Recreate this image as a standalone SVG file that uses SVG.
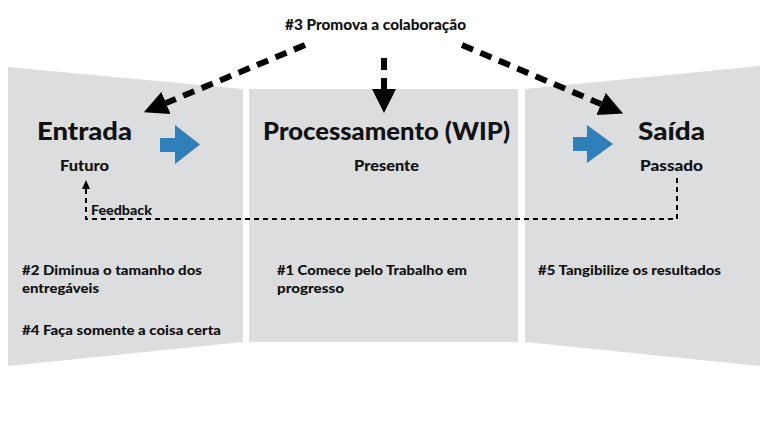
<svg xmlns="http://www.w3.org/2000/svg" width="768" height="432" viewBox="0 0 768 432">
<defs>
<style>
.panel{fill:#dcdddf}
text{font-family:Lato,"Liberation Sans",sans-serif;font-weight:900;fill:#111}
.title{font-size:25px}
.sub{font-size:15px}
.note{font-size:13.5px}
.small{font-size:12.5px}
.thick{fill:none;stroke:#000;stroke-width:6;stroke-dasharray:12 8}
.thin{fill:none;stroke:#000;stroke-width:2;stroke-dasharray:5 4}
.blue{fill:#2f80b9}
</style>
<marker id="bigHead" markerUnits="userSpaceOnUse" markerWidth="24" markerHeight="24" refX="0" refY="12" orient="auto" viewBox="0 0 24 24">
<path d="M0,0 L24,12 L0,24 z" fill="#000"/>
</marker>
<marker id="smallHead" markerUnits="userSpaceOnUse" markerWidth="9" markerHeight="8" refX="0" refY="4" orient="auto" viewBox="0 0 9 8">
<path d="M0,0 L9,4 L0,8 z" fill="#000"/>
</marker>
</defs>
<rect width="768" height="432" fill="#fff"/>
<g id="entrada">
<polygon class="panel" points="8,67 243,89 243,342 8,366"/>
<text class="title" x="37" y="140" textLength="95" lengthAdjust="spacingAndGlyphs">Entrada</text>
<text class="sub" x="60" y="171" textLength="49" lengthAdjust="spacingAndGlyphs">Futuro</text>
<text class="note" x="22" y="275" textLength="180" lengthAdjust="spacingAndGlyphs">#2 Diminua o tamanho dos</text>
<text class="note" x="22" y="293" textLength="77" lengthAdjust="spacingAndGlyphs">entregáveis</text>
<text class="note" x="22" y="335" textLength="199" lengthAdjust="spacingAndGlyphs">#4 Faça somente a coisa certa</text>
</g>
<g id="processamento">
<rect class="panel" x="249" y="89" width="269" height="253"/>
<text class="title" x="263" y="140" textLength="247" lengthAdjust="spacingAndGlyphs">Processamento (WIP)</text>
<text class="sub" x="354" y="171" textLength="65" lengthAdjust="spacingAndGlyphs">Presente</text>
<text class="note" x="277" y="275" textLength="190" lengthAdjust="spacingAndGlyphs">#1 Comece pelo Trabalho em</text>
<text class="note" x="277" y="293" textLength="67" lengthAdjust="spacingAndGlyphs">progresso</text>
</g>
<g id="saida">
<polygon class="panel" points="525,89 760,66 760,366 525,342"/>
<text class="title" x="638" y="140" textLength="67" lengthAdjust="spacingAndGlyphs">Saída</text>
<text class="sub" x="640" y="171" textLength="63" lengthAdjust="spacingAndGlyphs">Passado</text>
<text class="note" x="538" y="275" textLength="183" lengthAdjust="spacingAndGlyphs">#5 Tangibilize os resultados</text>
</g>
<g id="colaboracao">
<text class="sub" x="285" y="30" textLength="181" lengthAdjust="spacingAndGlyphs">#3 Promova a colaboração</text>
</g>
<g id="connectors">
<line class="thick" x1="305" y1="45" x2="166" y2="103" marker-end="url(#bigHead)"/>
<line class="thick" x1="384" y1="58" x2="384" y2="89" marker-end="url(#bigHead)"/>
<line class="thick" x1="462" y1="45" x2="601" y2="104" marker-end="url(#bigHead)"/>
<polygon class="blue" points="160,138 175,138 175,125 200,144.5 175,164 175,152 160,152"/>
<polygon class="blue" points="573,137 587,137 587,125 613,144 587,163 587,151 573,151"/>
<path class="thin" d="M677,178 V219 H86 V189" marker-end="url(#smallHead)"/>
<text class="small" x="91" y="215" textLength="61" lengthAdjust="spacingAndGlyphs">Feedback</text>
</g>
</svg>
